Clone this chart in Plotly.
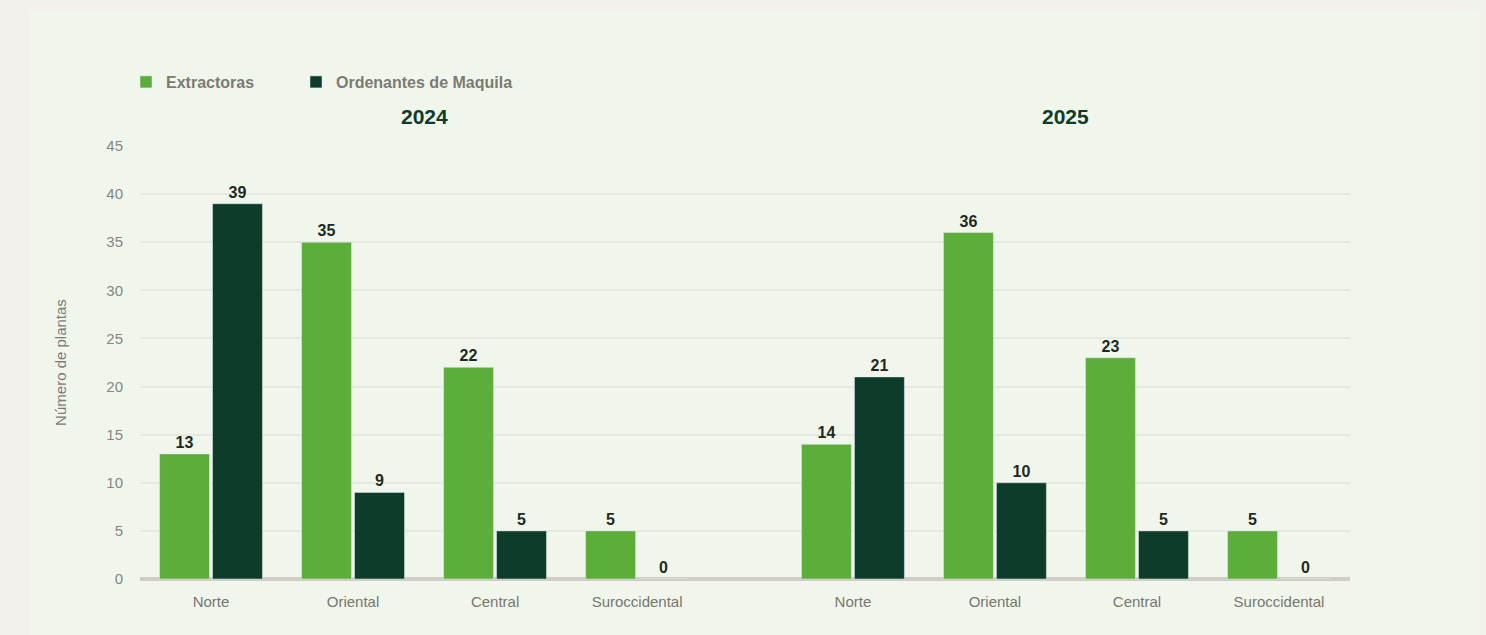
import plotly.graph_objects as go

regions = ["Norte", "Oriental", "Central", "Suroccidental"]
years = ["2024", "2025"]
extractoras = {"2024": [13, 35, 22, 5], "2025": [14, 36, 23, 5]}
ordenantes = {"2024": [39, 9, 5, 0], "2025": [21, 10, 5, 0]}
y_ticks = [0, 5, 10, 15, 20, 25, 30, 35, 40, 45]

LIGHT = "#5dad3b"
DARK = "#0e3c2b"
GROUP_OFFSET = 4.52
FONT = "Liberation Sans, Arial, sans-serif"

xs, labels, ext_vals, ord_vals = [], [], [], []
for gi, yr in enumerate(years):
    for i, r in enumerate(regions):
        xs.append(i + gi * GROUP_OFFSET)
        labels.append(r)
    ext_vals += extractoras[yr]
    ord_vals += ordenantes[yr]

label_font = dict(family=FONT, size=16, color="#1c2a22", weight=700)

fig = go.Figure()
fig.add_trace(go.Bar(x=xs, y=ext_vals, name="Extractoras", marker_color=LIGHT,
                     text=ext_vals, textposition="outside", textfont=label_font,
                     cliponaxis=False, legend="legend", showlegend=True))
fig.add_trace(go.Bar(x=xs, y=ord_vals, name="Ordenantes de Maquila", marker_color=DARK,
                     text=ord_vals, textposition="outside", textfont=label_font,
                     cliponaxis=False, legend="legend2", showlegend=True))

L, R, T, B = 140, 136, 146, 56
W, H = 1486, 635
pw, ph = W - L - R, H - T - B

def px_x(p):
    return (p - L) / pw

def px_y(p):
    return (H - B - p) / ph

for gi, yr in enumerate(years):
    center = sum(xs[gi * 4:(gi + 1) * 4]) / 4
    fig.add_annotation(x=center, y=px_y(117), xref="x", yref="paper", text=yr,
                       showarrow=False, yanchor="middle",
                       font=dict(family=FONT, size=21, color="#0e3c2b", weight=700))

fig.add_shape(type="rect", xref="paper", yref="paper", x0=px_x(30), x1=px_x(1479),
              y0=px_y(640), y1=px_y(10), fillcolor="#f1f6ec", line_width=0, layer="below")

legend_style = dict(orientation="h", xanchor="left", yanchor="middle",
                    font=dict(size=16, color="#7b7b73", weight=700),
                    itemclick=False, itemdoubleclick=False, bgcolor="rgba(0,0,0,0)",
                    visible=True)

fig.update_layout(
    width=W, height=H,
    showlegend=True,
    margin=dict(l=L, r=R, t=T, b=B, autoexpand=False),
    paper_bgcolor="#f4f1ed",
    plot_bgcolor="rgba(0,0,0,0)",
    barmode="group",
    bargap=0.254,
    bargroupgap=0.057,
    font=dict(family=FONT, color="#7b7b73"),
    legend=dict(x=px_x(126), y=px_y(82), **legend_style),
    legend2=dict(x=px_x(296), y=px_y(82), **legend_style),
    xaxis=dict(tickmode="array", tickvals=xs, ticktext=labels,
               range=[-0.5, xs[-1] + 0.5], showgrid=False, zeroline=False,
               showline=False, ticks="", ticklabelstandoff=12,
               tickfont=dict(size=15, color="#76766e")),
    yaxis=dict(range=[0, 45], tickvals=y_ticks, showgrid=True, gridcolor="#e6e9e0",
               gridwidth=2, zeroline=True, zerolinecolor="#d0cdc6", zerolinewidth=4,
               showline=False, ticks="", ticklabelstandoff=16,
               tickfont=dict(size=15, color="#86867e"),
               title=dict(text="Número de plantas", standoff=36,
                          font=dict(size=15, color="#7b7b73"))),
)

fig.write_html("out.html", config={"displayModeBar": False},
               post_script="document.body.style.margin='0';")
